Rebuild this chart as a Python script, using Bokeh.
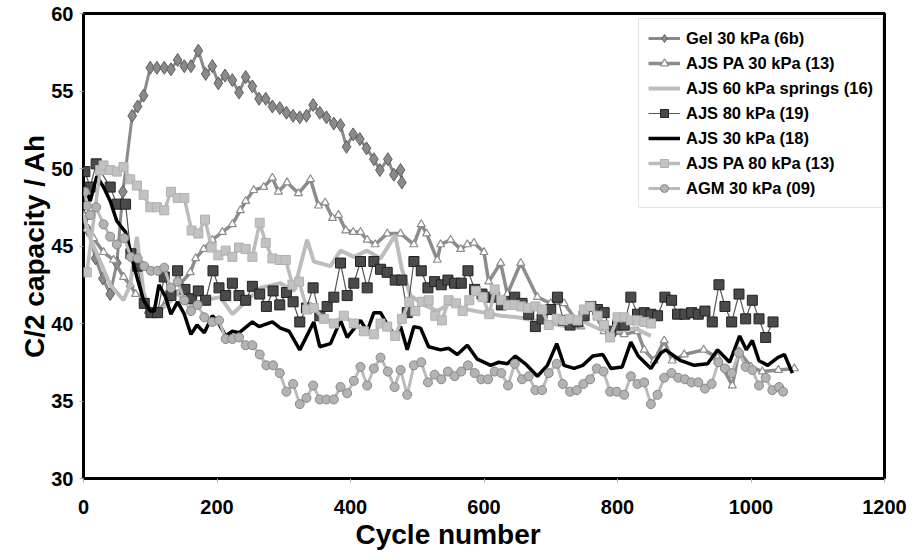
from bokeh.plotting import figure
from bokeh.models import Range1d, FixedTicker, Legend, LegendItem, Title
from bokeh.embed import file_html
from bokeh.resources import INLINE

# ---------------- data ----------------
gel_x = [2, 7, 18, 29, 40, 50, 59, 73, 81, 90, 100, 110, 121, 131, 141, 151, 161, 172, 183, 193, 202, 212, 223, 233, 243, 253, 263, 273, 283, 294, 304, 314, 324, 334, 344, 354, 364, 375, 385, 394, 404, 414, 424, 435, 444, 456, 465, 475, 477]
gel_y = [46.8, 46.0, 44.2, 42.9, 41.9, 43.9, 48.5, 53.4, 54.0, 54.7, 56.5, 56.5, 56.5, 56.4, 57.0, 56.6, 56.6, 57.6, 56.1, 56.6, 55.5, 56.0, 55.7, 54.9, 55.9, 55.3, 54.5, 54.5, 54.0, 53.9, 53.6, 53.4, 53.3, 53.4, 54.1, 53.6, 53.3, 52.9, 52.8, 51.4, 52.2, 51.9, 51.3, 50.6, 49.9, 50.6, 49.6, 49.9, 49.1]

pa30_x = [0, 5, 15, 30, 45, 60, 70, 78, 90, 97, 112, 125, 140, 160, 168, 180, 193, 208, 223, 235, 243, 255, 270, 283, 292, 305, 322, 340, 352, 362, 373, 382, 393, 404, 415, 425, 437, 455, 475, 495, 506, 514, 530, 535, 550, 565, 575, 585, 600, 607, 625, 635, 655, 680, 700, 720, 745, 760, 780, 810, 830, 840, 855, 870, 882, 900, 929, 950, 972, 982, 1000, 1017, 1041, 1065]
pa30_y = [47.0, 46.1, 45.5, 44.6, 44.1, 43.0, 42.5, 41.9, 41.7, 40.8, 40.8, 41.5, 42.3, 43.3, 44.2, 44.8, 45.4, 45.9, 46.4, 47.3, 47.9, 48.6, 48.8, 49.4, 48.5, 49.1, 48.4, 49.3, 47.6, 47.8, 46.8, 47.0, 46.0, 45.9, 45.9, 45.4, 45.1, 45.8, 45.8, 45.1, 46.4, 45.8, 44.1, 45.1, 45.4, 44.8, 45.1, 45.2, 44.6, 42.7, 43.9, 41.9, 43.9, 41.7, 41.3, 41.3, 39.8, 41.1, 39.5, 39.3, 39.5, 38.3, 37.6, 38.9, 37.6, 38.0, 38.3, 37.8, 36.0, 38.2, 37.2, 36.9, 37.0, 37.1]

spr_x = [0, 10, 20, 30, 40, 50, 60, 70, 80, 90, 100, 112, 125, 140, 150, 160, 180, 205, 223, 245, 265, 295, 315, 335, 345, 370, 385, 405, 425, 445, 467, 477, 490, 510, 530, 550, 575, 600, 625, 650, 675, 700, 725, 750, 775, 800, 825, 850]
spr_y = [47.0, 45.5, 44.5, 43.5, 42.5, 42.0, 41.5, 42.5, 45.6, 42.0, 40.8, 40.8, 41.2, 42.0, 41.5, 41.1, 41.5, 41.7, 40.6, 41.5, 42.3, 42.6, 42.1, 45.4, 44.0, 43.7, 44.7, 44.3, 44.7, 44.2, 45.7, 43.5, 41.8, 41.2, 40.8, 41.3, 40.9, 40.7, 40.5, 40.4, 40.2, 40.0, 39.8, 40.1, 39.6, 39.5, 39.7, 39.2]

a80_x = [2, 10, 19, 40, 50, 63, 71, 81, 91, 101, 111, 121, 131, 141, 152, 162, 172, 183, 194, 203, 213, 223, 233, 243, 253, 264, 274, 284, 294, 304, 314, 324, 334, 344, 354, 365, 375, 385, 395, 405, 415, 425, 435, 445, 455, 467, 477, 485, 495, 506, 516, 526, 536, 546, 556, 566, 576, 586, 597, 607, 616, 626, 636, 646, 657, 667, 677, 687, 700, 710, 719, 729, 740, 750, 760, 770, 780, 790, 800, 810, 820, 830, 840, 850, 860, 871, 881, 890, 901, 911, 921, 931, 942, 952, 961, 971, 982, 992, 1002, 1012, 1022, 1033]
a80_y = [49.8, 48.8, 50.3, 48.8, 47.7, 47.7, 44.5, 43.7, 41.3, 40.7, 40.7, 43.0, 41.8, 43.4, 42.2, 41.6, 42.1, 41.5, 43.4, 42.3, 41.8, 42.6, 41.8, 41.5, 42.4, 41.9, 41.1, 42.1, 41.2, 42.0, 41.4, 40.1, 41.0, 42.3, 40.5, 41.1, 41.7, 43.9, 41.8, 42.6, 44.0, 42.3, 44.0, 43.5, 43.3, 42.8, 42.8, 40.7, 44.0, 43.4, 42.3, 42.7, 42.5, 42.8, 42.6, 42.6, 43.4, 42.2, 41.9, 41.7, 41.7, 41.2, 41.4, 41.7, 41.3, 40.6, 39.8, 40.3, 40.9, 41.7, 40.2, 39.9, 40.1, 40.5, 41.1, 40.9, 40.7, 39.5, 39.9, 39.9, 41.7, 40.6, 40.7, 40.6, 40.5, 41.7, 41.5, 40.6, 40.6, 40.7, 40.6, 40.8, 40.1, 42.5, 41.1, 40.1, 41.9, 40.3, 41.5, 40.3, 39.1, 40.1]

a30_x = [2, 10, 20, 30, 40, 50, 63, 70, 80, 90, 100, 106, 113, 123, 131, 141, 151, 161, 170, 181, 193, 200, 213, 223, 233, 253, 263, 283, 295, 308, 324, 345, 354, 370, 385, 395, 415, 425, 435, 445, 457, 467, 475, 485, 495, 505, 517, 535, 547, 560, 575, 590, 610, 622, 635, 647, 662, 680, 695, 709, 720, 735, 748, 763, 778, 790, 807, 820, 831, 850, 865, 872, 895, 915, 935, 950, 968, 983, 993, 1002, 1012, 1025, 1040, 1050, 1062]
a30_y = [48.8, 47.9, 49.5, 48.8, 47.9, 46.6, 45.9, 44.7, 43.0, 41.5, 40.8, 40.8, 42.5, 41.7, 40.6, 41.4, 40.6, 39.3, 39.9, 39.4, 40.5, 40.2, 39.2, 39.5, 39.4, 40.1, 39.8, 40.1, 39.7, 39.5, 38.3, 40.1, 38.5, 38.7, 40.2, 39.1, 40.2, 39.5, 40.7, 40.7, 39.8, 39.2, 39.8, 38.3, 39.8, 39.7, 38.5, 38.3, 38.4, 38.0, 38.6, 37.7, 37.3, 37.5, 37.4, 37.9, 37.4, 36.6, 37.3, 38.7, 37.3, 37.1, 37.3, 37.9, 38.0, 37.1, 37.2, 38.8, 37.9, 37.1, 38.1, 38.3, 37.6, 37.3, 37.4, 38.3, 37.5, 39.2, 38.3, 38.9, 37.6, 37.3, 37.8, 38.0, 36.8]

pa80_x = [5, 25, 30, 40, 50, 60, 70, 80, 90, 100, 110, 121, 131, 141, 151, 162, 172, 182, 192, 202, 213, 223, 233, 243, 253, 264, 273, 283, 294, 303, 313, 323, 335, 345, 360, 375, 390, 405, 420, 435, 445, 455, 467, 477, 488, 497, 507, 517, 527, 537, 547, 558, 568, 578, 588, 598, 608, 616, 626, 636, 646, 656, 666, 677, 687, 697, 709, 719, 729, 740, 750, 759, 770, 780, 789, 800, 810, 820, 830, 840, 850]
pa80_y = [43.3, 49.9, 50.2, 49.9, 49.8, 50.1, 49.3, 48.9, 48.3, 47.5, 47.5, 47.3, 48.5, 48.1, 48.1, 46.0, 45.8, 46.7, 44.9, 44.4, 44.7, 44.3, 44.9, 44.8, 44.3, 46.5, 45.2, 44.2, 44.1, 44.1, 42.5, 42.7, 40.9, 41.0, 40.3, 40.0, 40.5, 40.0, 39.5, 39.3, 40.0, 39.8, 39.2, 40.3, 41.4, 40.8, 41.4, 41.5, 40.5, 40.2, 41.5, 41.3, 40.8, 41.5, 42.1, 41.7, 40.6, 42.2, 41.5, 41.2, 41.2, 41.1, 41.0, 41.1, 40.9, 39.9, 40.3, 40.2, 40.3, 40.2, 40.9, 41.1, 40.5, 39.9, 39.1, 40.4, 40.4, 40.2, 40.2, 40.1, 40.0]

agm_x = [2, 5, 10, 19, 30, 40, 50, 61, 71, 81, 91, 101, 111, 121, 131, 141, 151, 161, 171, 181, 193, 203, 213, 223, 233, 243, 253, 264, 274, 284, 294, 304, 314, 324, 334, 344, 354, 364, 375, 385, 395, 405, 415, 425, 435, 445, 456, 466, 475, 485, 495, 506, 516, 526, 536, 546, 556, 566, 576, 586, 596, 606, 616, 626, 636, 646, 657, 667, 677, 687, 697, 709, 718, 729, 739, 749, 759, 769, 779, 789, 799, 810, 820, 830, 840, 850, 860, 870, 881, 891, 901, 911, 921, 931, 941, 951, 961, 971, 982, 992, 1002, 1012, 1022, 1032, 1042, 1048]
agm_y = [48.5, 47.6, 47.0, 47.5, 46.4, 45.6, 45.1, 45.5, 44.3, 44.2, 43.7, 43.4, 43.4, 43.6, 42.3, 42.7, 41.5, 40.8, 41.2, 40.4, 40.1, 40.2, 39.0, 39.0, 39.1, 38.6, 38.6, 38.0, 37.3, 37.3, 36.8, 35.6, 36.1, 34.8, 35.2, 36.0, 35.1, 35.1, 35.1, 35.9, 35.5, 36.3, 37.2, 36.0, 37.1, 37.8, 36.9, 35.9, 37.0, 35.4, 37.3, 37.5, 36.2, 36.7, 36.4, 36.9, 36.6, 36.9, 37.3, 36.8, 36.4, 36.4, 36.9, 36.8, 36.0, 37.4, 36.4, 36.6, 35.7, 35.7, 36.8, 37.4, 36.1, 35.6, 35.7, 36.1, 36.4, 37.1, 36.9, 35.6, 35.6, 35.4, 36.6, 36.1, 36.2, 34.8, 35.4, 36.5, 36.8, 36.5, 36.4, 36.2, 36.2, 35.8, 36.1, 37.5, 37.1, 36.8, 38.1, 37.2, 37.0, 36.0, 36.5, 35.7, 35.9, 35.6]

labels = ["Gel 30 kPa (6b)", "AJS PA 30 kPa (13)", "AJS 60 kPa springs (16)",
          "AJS 80 kPa (19)", "AJS 30 kPa (18)", "AJS PA 80 kPa (13)", "AGM 30 kPa (09)"]
x_ticks = [0, 200, 400, 600, 800, 1000, 1200]
y_ticks = [30, 35, 40, 45, 50, 55, 60]
x_title = "Cycle number"
y_title = "C/2 capacity / Ah"

FONT = "Liberation Sans"

p = figure(width=923, height=560, output_backend="svg", toolbar_location=None,
           x_range=Range1d(0, 1200), y_range=Range1d(30, 60),
           min_border_left=83, min_border_right=39, min_border_top=13, min_border_bottom=82)
p.xgrid.visible = False
p.ygrid.visible = False
p.outline_line_color = "black"
p.outline_line_width = 3
p.background_fill_color = "white"
p.border_fill_color = "white"

for ax in (p.xaxis[0], p.yaxis[0]):
    ax.axis_line_color = None
    ax.major_tick_line_color = "#aaaaaa"
    ax.major_tick_in = 0
    ax.major_tick_out = 4
    ax.minor_tick_line_color = None
    ax.major_label_text_font = FONT
    ax.major_label_text_font_style = "bold"
    ax.major_label_text_font_size = "20px"
    ax.major_label_text_color = "black"
    ax.axis_label_text_font = FONT
    ax.axis_label_text_font_style = "bold"
    ax.axis_label_text_font_size = "28px"
    ax.axis_label_text_color = "black"

p.xaxis[0].ticker = FixedTicker(ticks=x_ticks)
p.yaxis[0].ticker = FixedTicker(ticks=y_ticks)
p.xaxis[0].major_label_standoff = 17
p.yaxis[0].major_label_standoff = 6
p.yaxis[0].axis_label = y_title
p.yaxis[0].axis_label_standoff = -2

xt = Title(text=x_title, align="left", offset=272, standoff=0,
           text_font=FONT, text_font_style="bold", text_font_size="28px", text_color="black")
p.add_layout(xt, "below")

items = []

# Gel
l = p.line(gel_x, gel_y, line_color="#8a8a8a", line_width=3)
s = p.scatter(gel_x, gel_y, marker="diamond", size=13, fill_color="#8a8a8a", line_color="#5e5e5e", line_width=1)
items.append(LegendItem(label=labels[0], renderers=[l, s]))

# AJS PA 30
l = p.line(pa30_x, pa30_y, line_color="#8c8c8c", line_width=3.5)
s = p.scatter(pa30_x, pa30_y, marker="triangle", size=8, fill_color="white", line_color="#8c8c8c", line_width=1.2)
items.append(LegendItem(label=labels[1], renderers=[l, s]))

# AJS 60 springs
l = p.line(spr_x, spr_y, line_color="#bdbdbd", line_width=4)
items.append(LegendItem(label=labels[2], renderers=[l]))

# AJS 80
l = p.line(a80_x, a80_y, line_color="#555555", line_width=1.2)
s = p.scatter(a80_x, a80_y, marker="square", size=10, fill_color="#4a4a4a", line_color="#222222", line_width=1)
items.append(LegendItem(label=labels[3], renderers=[l, s]))

# AJS 30
l = p.line(a30_x, a30_y, line_color="black", line_width=3.5)
items.append(LegendItem(label=labels[4], renderers=[l]))

# AJS PA 80
l = p.line(pa80_x, pa80_y, line_color="#bcbcbc", line_width=3.5)
s = p.scatter(pa80_x, pa80_y, marker="square", size=9, fill_color="#c2c2c2", line_color="#b0b0b0", line_width=1)
items.append(LegendItem(label=labels[5], renderers=[l, s]))

# AGM
l = p.line(agm_x, agm_y, line_color="#bbbbbb", line_width=3)
s = p.scatter(agm_x, agm_y, marker="circle", size=9, fill_color="#b3b3b3", line_color="#888888", line_width=1)
items.append(LegendItem(label=labels[6], renderers=[l, s]))

legend = Legend(items=items, location=(555, 270))
legend.label_text_font = FONT
legend.label_text_font_style = "bold"
legend.label_text_font_size = "16.5px"
legend.label_text_color = "black"
legend.glyph_width = 32
legend.glyph_height = 20
legend.label_height = 20
legend.label_standoff = 6
legend.spacing = 5
legend.padding = 9
legend.margin = 0
legend.border_line_color = "#c8c8c8"
legend.border_line_width = 1
legend.background_fill_color = "white"
legend.background_fill_alpha = 1
p.add_layout(legend, "center")

open("out.html", "w").write(file_html(p, INLINE))
